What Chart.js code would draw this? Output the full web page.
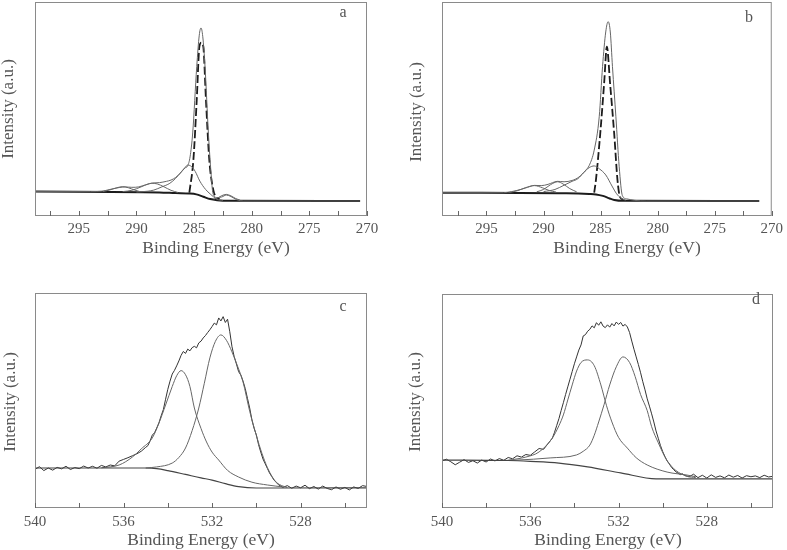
<!DOCTYPE html>
<html>
<head>
<meta charset="utf-8">
<title>XPS C1s / O1s spectra</title>
<script src="https://cdn.jsdelivr.net/npm/chart.js@4.4.1/dist/chart.umd.min.js"></script>
<style>
    body { margin: 0; background: #fff; }
    #wrap { position: relative; width: 787px; height: 550px; overflow: hidden; }
    #wrap canvas { position: absolute; }
</style>
</head>
<body>
<div id="wrap">
    <canvas id="chartA" width="393" height="275" style="left:0;top:0"></canvas>
    <canvas id="chartB" width="394" height="275" style="left:393px;top:0"></canvas>
    <canvas id="chartC" width="393" height="275" style="left:0;top:275px"></canvas>
    <canvas id="chartD" width="394" height="275" style="left:393px;top:275px"></canvas>
</div>
<script>
// ---- C1s axis (panels a, b) ----
const c1sTicks = [295, 290, 285, 280, 275, 270];
const c1sMinor = [297.5, 292.5, 287.5, 282.5, 277.5, 272.5];

// ---- O1s axis (panels c, d) ----
const o1sTicks = [540, 536, 532, 528];
const o1sMinor = [538, 534, 530, 526];

// Panel a: C1s fit
const aEnvX = [298.8, 294.0, 293.0, 292.3, 291.5, 291.0, 290.4, 289.8, 289.2, 288.6, 288.0, 287.4, 287.0, 286.6, 286.2, 285.8, 285.55, 285.35, 285.12, 284.77, 284.55, 284.40, 284.25, 284.05, 283.76, 283.53, 283.36, 283.0, 282.6, 282.2, 281.8, 281.3, 280.7, 270.6];
const aEnvY = [11.4, 11.4, 11.6, 12.4, 13.3, 13.6, 13.4, 13.6, 14.6, 15.4, 15.6, 16.2, 16.8, 18.0, 20.0, 22.4, 23.5, 27.6, 38.8, 69.8, 84.5, 87.9, 84.0, 69.8, 38.8, 20.1, 10.5, 8.6, 8.9, 9.8, 9.1, 7.6, 7.0, 7.0];
const aMainX = [285.41, 285.06, 284.77, 284.54, 284.37, 284.20, 283.97, 283.68, 283.33, 283.1, 282.8];
const aMainY = [10.9, 26.2, 54.2, 79.1, 81.0, 79.1, 54.2, 26.2, 12.1, 9.0, 7.8];
const aCoX = [290.0, 289.0, 288.5, 287.8, 287.1, 286.6, 286.1, 285.8, 285.55, 285.2, 284.9, 284.5, 284.0, 283.6, 283.0, 282.5];
const aCoY = [11.2, 11.6, 12.1, 13.6, 15.3, 17.6, 20.7, 22.6, 23.8, 23.0, 20.8, 16.3, 12.4, 10.3, 7.8, 7.3];
const aCooX = [291.2, 290.4, 289.6, 289.0, 288.7, 288.2, 287.6, 287.0, 286.4];
const aCooY = [11.4, 12.0, 13.6, 14.9, 15.3, 15.0, 13.6, 12.0, 11.0];
const aPiX = [292.9, 292.3, 291.7, 291.2, 290.7, 290.2, 289.7];
const aPiY = [11.4, 12.2, 13.2, 13.7, 13.2, 12.2, 11.4];
const aLowX = [283.3, 282.9, 282.6, 282.2, 281.8, 281.4, 281.0];
const aLowY = [7.9, 8.6, 9.5, 10.1, 9.4, 8.2, 7.4];
const aBgX = [298.8, 288.0, 286.6, 285.4, 284.8, 284.2, 283.6, 283.0, 282.0, 270.6];
const aBgY = [11.4, 11.0, 10.7, 10.5, 10.1, 9.0, 7.9, 7.4, 7.1, 7.0];

// Panel b: C1s fit
const bEnvX = [298.9, 293.5, 292.8, 292.0, 291.4, 290.8, 290.2, 289.6, 289.2, 288.8, 288.2, 287.5, 286.9, 286.3, 286.0, 285.56, 285.12, 284.83, 284.55, 284.34, 284.15, 283.96, 283.66, 283.37, 283.09, 282.7, 282.0, 281.0, 271.1];
const bEnvY = [10.9, 10.9, 11.4, 12.4, 13.4, 14.3, 14.2, 14.8, 15.6, 16.2, 16.0, 16.6, 18.2, 21.4, 23.6, 30.8, 46.4, 69.8, 86.0, 90.8, 86.0, 69.8, 46.4, 23.0, 9.5, 8.0, 7.3, 7.0, 7.0];
const bMainX = [285.56, 285.41, 285.03, 284.69, 284.45, 284.17, 283.81, 283.52, 283.31, 283.0];
const bMainY = [10.9, 16.8, 38.6, 62.0, 79.1, 62.0, 38.6, 16.8, 9.0, 7.6];
const bCoX = [290.0, 289.0, 288.2, 287.5, 287.0, 286.5, 286.0, 285.56, 285.1, 284.55, 284.0, 283.6, 283.2, 282.8];
const bCoY = [11.4, 12.4, 14.4, 16.2, 17.4, 20.2, 22.6, 23.4, 22.0, 19.2, 14.0, 10.4, 8.3, 7.4];
const bCooX = [290.6, 290.0, 289.4, 288.76, 288.3, 287.7, 287.1];
const bCooY = [11.3, 12.4, 14.6, 16.0, 15.0, 12.8, 11.3];
const bPiX = [293.0, 292.3, 291.6, 290.8, 290.1, 289.5, 288.9];
const bPiY = [11.0, 11.8, 13.2, 14.2, 13.2, 11.9, 11.2];
const bBgX = [298.9, 288.0, 286.0, 285.4, 284.8, 284.2, 283.8, 283.0, 271.1];
const bBgY = [10.9, 10.6, 10.3, 10.1, 9.4, 8.2, 7.5, 7.1, 7.0];

// O1s raw scans share one energy grid (eV)
const o1sEnergy = [540.0, 539.8, 539.6, 539.4, 539.2, 539.0, 538.8, 538.6, 538.4, 538.2, 538.0, 537.8, 537.6, 537.4, 537.2, 537.0, 536.8, 536.6, 536.4, 536.2, 536.0,
    535.8, 535.6, 535.4, 535.2, 535.0,
    534.9, 534.8, 534.7, 534.6, 534.5, 534.4, 534.3, 534.2, 534.1, 534.0,
    533.9, 533.8, 533.7, 533.6, 533.5, 533.4, 533.3, 533.2, 533.1, 533.0,
    532.9, 532.8, 532.7, 532.6, 532.5, 532.4, 532.3, 532.2, 532.1, 532.0,
    531.9, 531.8, 531.7, 531.6, 531.5, 531.4, 531.3, 531.2, 531.1, 531.0,
    530.9, 530.8, 530.7, 530.6, 530.5, 530.4, 530.3, 530.2, 530.1, 530.0,
    529.9, 529.8, 529.7, 529.6, 529.5, 529.4, 529.3, 529.2, 529.1, 529.0,
    528.8, 528.6, 528.4, 528.2, 528.0, 527.8, 527.6, 527.4, 527.2, 527.0, 526.8, 526.6, 526.4, 526.2, 526.0, 525.8, 525.6, 525.4, 525.2, 525.0];

// Panel c: O1s
const cRaw = [18.0, 19.2, 17.4, 18.6, 17.6, 18.9, 18.2, 19.4, 17.9, 18.8, 18.3, 19.5, 18.6, 19.4, 18.5, 19.8, 19.1, 20.0, 19.6, 21.8, 22.6,
    23.4, 24.3, 25.2, 26.4, 28.2,
    29.0, 31.2, 33.9, 35.0, 37.2, 39.6, 42.9, 45.8, 50.6, 55.2,
    59.0, 62.3, 64.0, 66.1, 68.4, 71.0, 72.8, 71.9, 73.9, 73.1,
    74.6, 75.2, 74.5, 76.8, 77.6, 79.1, 80.2, 81.6, 82.9, 84.4,
    86.0, 85.2, 88.4, 87.0, 89.0, 86.3, 87.8, 82.0, 75.0, 70.4,
    67.0, 63.4, 61.8, 59.0, 55.5, 51.0, 46.5, 41.0, 37.0, 34.0,
    29.5, 26.0, 22.8, 20.6, 18.4, 16.2, 14.6, 13.0, 11.9, 10.8,
    9.6, 10.4, 9.2, 10.2, 9.4, 10.6, 9.0, 10.0, 8.8, 10.2, 9.1, 8.5, 9.8, 8.7, 9.6, 8.4, 9.8, 9.1, 10.4, 10.0];
const cPeak1X = [537.0, 536.2, 535.6, 535.2, 534.7, 534.4, 534.1, 533.8, 533.6, 533.4, 533.2, 533.0, 532.8, 532.5, 532.25, 532.0, 531.7, 531.3, 530.8, 530.2, 529.5, 528.8];
const cPeak1Y = [18.7, 20.0, 23.7, 27.5, 32.6, 39.5, 47.9, 56.5, 61.5, 63.9, 62.0, 56.5, 46.5, 37.0, 30.7, 26.0, 22.3, 17.5, 14.4, 12.0, 10.7, 9.8];
const cPeak2X = [535.0, 534.5, 533.8, 533.5, 533.2, 532.9, 532.6, 532.35, 532.1, 531.85, 531.6, 531.35, 531.1, 530.85, 530.6, 530.3, 530.0, 529.75, 529.5, 529.3, 529.1, 528.8, 528.6];
const cPeak2Y = [18.6, 19.1, 20.9, 23.5, 27.9, 36.0, 46.5, 58.0, 69.8, 77.5, 80.5, 78.0, 72.6, 66.0, 58.6, 45.0, 33.8, 25.5, 18.8, 14.8, 12.0, 10.2, 9.6];
const cBgX = [540.0, 535.0, 534.5, 534.0, 533.2, 532.5, 532.0, 531.4, 530.8, 530.0, 529.0, 525.0];
const cBgY = [18.6, 18.6, 18.3, 17.4, 15.6, 14.0, 13.0, 11.3, 9.9, 9.3, 9.3, 9.4];

// Panel d: O1s
const dRaw = [22.0, 22.8, 21.6, 20.2, 21.4, 22.6, 21.3, 22.1, 21.0, 22.4, 21.5, 22.9, 22.0, 23.1, 22.3, 23.6, 23.0, 24.4, 23.8, 25.0, 24.6,
    26.2, 27.8, 27.4, 30.0, 32.6,
    35.4, 38.6, 41.8, 45.6, 49.2, 53.0, 56.6, 60.2, 63.8, 67.4,
    70.6, 73.8, 76.2, 80.4, 81.0, 82.6, 83.5, 85.1, 84.2, 86.6,
    85.4, 87.0, 85.0, 84.3, 85.6, 84.5, 86.2, 85.1, 86.9, 85.8,
    86.7, 85.0, 85.8, 84.6, 82.0, 78.0, 74.2, 70.6, 67.0, 63.2,
    59.0, 55.2, 51.0, 47.6, 44.0, 40.2, 36.0, 32.6, 29.2, 26.4,
    24.1, 22.0, 20.6, 19.0, 17.9, 16.9, 16.3, 15.6, 16.0, 15.2,
    14.6, 15.8, 14.2, 15.3, 14.0, 15.5, 14.3, 15.0, 14.1, 15.4, 14.4, 15.2, 14.0, 15.1, 14.6, 15.0, 14.2, 15.3, 14.5, 14.8];
const dPeak1X = [537.0, 536.2, 535.6, 535.0, 534.7, 534.5, 534.3, 534.1, 533.9, 533.7, 533.4, 533.1, 532.8, 532.55, 532.3, 532.0, 531.6, 531.2, 530.7, 529.8, 528.9, 528.5];
const dPeak1Y = [22.3, 23.8, 26.2, 32.7, 38.5, 43.5, 50.5, 57.5, 64.0, 68.0, 69.2, 66.5, 57.5, 48.0, 40.2, 33.0, 28.0, 23.5, 20.1, 16.8, 15.4, 14.6];
const dPeak2X = [537.5, 536.6, 535.1, 533.9, 533.6, 533.3, 533.1, 532.9, 532.65, 532.4, 532.1, 531.8, 531.5, 531.25, 531.0, 530.7, 530.5, 530.2, 529.85, 529.6, 529.4, 528.9, 528.5];
const dPeak2Y = [22.2, 22.4, 23.4, 24.8, 26.5, 29.4, 34.0, 40.2, 48.5, 57.5, 66.0, 70.6, 68.0, 61.5, 53.0, 45.5, 38.0, 30.5, 23.0, 19.5, 17.5, 14.8, 14.2];
const dBgX = [540.0, 537.0, 536.0, 534.7, 533.4, 531.9, 530.3, 525.0];
const dBgY = [22.4, 22.2, 21.8, 21.0, 19.2, 16.4, 13.6, 13.6];

const SERIF = '"Liberation Serif", "Times New Roman", serif';
const TEXT_GREY = '#555';

// Line looks used in the figure
const looks = {
    heavy: { borderColor: '#1c1c1c', borderWidth: 2, tension: 0.4, cubicInterpolationMode: 'monotone' },
    dashed: { borderColor: '#1c1c1c', borderWidth: 1.8, borderDash: [8, 3], tension: 0.4, cubicInterpolationMode: 'monotone' },
    fit: { borderColor: '#666', borderWidth: 1, tension: 0.4, cubicInterpolationMode: 'monotone' },
    base: { borderColor: '#444', borderWidth: 1.2, tension: 0.4, cubicInterpolationMode: 'monotone' },
    raw: { borderColor: '#333', borderWidth: 1, tension: 0 }
};

function points(xs, ys) {
    return xs.map((x, i) => ({ x: x, y: ys[i] }));
}

function curve(xs, ys, look) {
    return Object.assign({ data: points(xs, ys), pointRadius: 0, fill: false }, looks[look]);
}

// Frame, inward tick marks, axis titles and panel letter
const panelDecor = {
    id: 'panelDecor',
    afterDraw(chart, args, opts) {
        const ctx = chart.ctx;
        const area = chart.chartArea;
        const xScale = chart.scales.x;
        ctx.save();
        ctx.strokeStyle = '#8a8a8a';
        ctx.lineWidth = 1;
        ctx.strokeRect(area.left + 0.5, area.top + 0.5, area.right - area.left - 1, area.bottom - area.top - 1);

        ctx.strokeStyle = '#666';
        ctx.beginPath();
        opts.marks.forEach(v => {
            const px = Math.round(xScale.getPixelForValue(v)) + 0.5;
            ctx.moveTo(px, area.bottom);
            ctx.lineTo(px, area.bottom - 5);
        });
        ctx.stroke();

        ctx.fillStyle = TEXT_GREY;
        ctx.textAlign = 'center';
        ctx.textBaseline = 'middle';
        ctx.font = '17.5px ' + SERIF;
        ctx.fillText('Binding Energy (eV)', opts.xTitle[0], opts.xTitle[1]);
        ctx.font = '17px ' + SERIF;
        ctx.save();
        ctx.translate(opts.yTitle[0], opts.yTitle[1]);
        ctx.rotate(-Math.PI / 2);
        ctx.fillText('Intensity (a.u.)', 0, 0);
        ctx.restore();

        ctx.font = '16px ' + SERIF;
        ctx.fillText(opts.letter, opts.letterAt[0], opts.letterAt[1]);
        ctx.restore();
    }
};

function makePanel(cfg) {
    const ctx = document.getElementById(cfg.id).getContext('2d');
    return new Chart(ctx, {
        type: 'line',
        data: { datasets: cfg.datasets },
        options: {
            responsive: false,
            animation: false,
            events: [],
            layout: { padding: cfg.padding },
            plugins: {
                legend: { display: false },
                tooltip: { enabled: false },
                panelDecor: {
                    marks: cfg.ticks.concat(cfg.minor),
                    xTitle: cfg.xTitle,
                    yTitle: cfg.yTitle,
                    letter: cfg.letter,
                    letterAt: cfg.letterAt
                }
            },
            scales: {
                x: {
                    type: 'linear',
                    reverse: true,
                    min: cfg.xMin,
                    max: cfg.xMax,
                    grid: { display: false, drawTicks: false },
                    border: { display: false },
                    ticks: {
                        color: TEXT_GREY,
                        font: { family: SERIF, size: 15 },
                        padding: cfg.tickPad,
                        maxRotation: 0
                    },
                    afterBuildTicks: scale => {
                        scale.ticks = cfg.ticks.map(v => ({ value: v }));
                    },
                    afterFit: scale => {
                        scale.height = cfg.axisHeight;
                    }
                },
                y: { display: false, min: 0, max: 100 }
            }
        },
        plugins: [panelDecor]
    });
}

document.addEventListener('DOMContentLoaded', function () {
    makePanel({
        id: 'chartA', xMin: 270, xMax: 298.8, ticks: c1sTicks, minor: c1sMinor,
        padding: { left: 35, right: 26, top: 2, bottom: 0 }, axisHeight: 59, tickPad: 4,
        xTitle: [216, 248], yTitle: [9, 109], letter: 'a', letterAt: [343, 13],
        datasets: [
            curve(aPiX, aPiY, 'fit'),
            curve(aCooX, aCooY, 'fit'),
            curve(aCoX, aCoY, 'fit'),
            curve(aLowX, aLowY, 'fit'),
            curve(aEnvX, aEnvY, 'fit'),
            curve(aMainX, aMainY, 'dashed'),
            curve(aBgX, aBgY, 'heavy')
        ]
    });

    makePanel({
        id: 'chartB', xMin: 270, xMax: 298.9, ticks: c1sTicks, minor: c1sMinor,
        padding: { left: 49, right: 14, top: 2, bottom: 0 }, axisHeight: 59, tickPad: 4,
        xTitle: [234, 248], yTitle: [24, 112], letter: 'b', letterAt: [356, 18],
        datasets: [
            curve(bPiX, bPiY, 'fit'),
            curve(bCooX, bCooY, 'fit'),
            curve(bCoX, bCoY, 'fit'),
            curve(bEnvX, bEnvY, 'fit'),
            curve(bMainX, bMainY, 'dashed'),
            curve(bBgX, bBgY, 'heavy')
        ]
    });

    makePanel({
        id: 'chartC', xMin: 525, xMax: 540, ticks: o1sTicks, minor: o1sMinor,
        padding: { left: 35, right: 26, top: 18, bottom: 0 }, axisHeight: 42, tickPad: 5,
        xTitle: [201, 265], yTitle: [11, 127], letter: 'c', letterAt: [343, 32],
        datasets: [
            curve(cBgX, cBgY, 'base'),
            curve(cPeak1X, cPeak1Y, 'fit'),
            curve(cPeak2X, cPeak2Y, 'fit'),
            curve(o1sEnergy, cRaw, 'raw')
        ]
    });

    makePanel({
        id: 'chartD', xMin: 525, xMax: 540, ticks: o1sTicks, minor: o1sMinor,
        padding: { left: 49, right: 14, top: 19, bottom: 0 }, axisHeight: 42, tickPad: 5,
        xTitle: [215, 265], yTitle: [23, 127], letter: 'd', letterAt: [363, 25],
        datasets: [
            curve(dBgX, dBgY, 'base'),
            curve(dPeak1X, dPeak1Y, 'fit'),
            curve(dPeak2X, dPeak2Y, 'fit'),
            curve(o1sEnergy, dRaw, 'raw')
        ]
    });
});
</script>
</body>
</html>
